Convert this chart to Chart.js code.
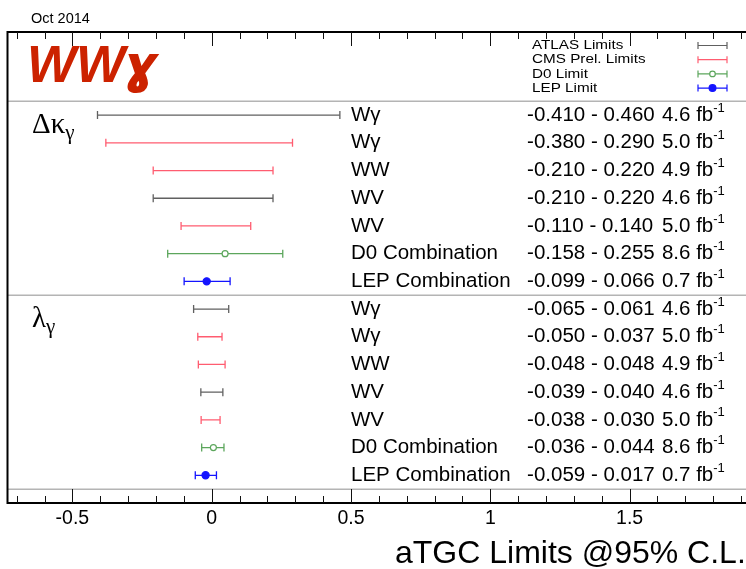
<!DOCTYPE html>
<html>
<head>
<meta charset="utf-8">
<script src="https://cdn.jsdelivr.net/npm/chart.js@4.4.0/dist/chart.umd.min.js"></script>
<style>
  html, body { margin: 0; padding: 0; background: #fff; overflow: hidden; width: 746px; height: 569px; }
  canvas { display: block; }
</style>
</head>
<body>
<canvas id="chartCanvas" width="770" height="569"></canvas>
<script>
// Данные графика
const processNames = ['Wγ', 'Wγ', 'WW', 'WV', 'WV', 'D0 Combination', 'LEP Combination'];
const rowExperiment = ['ATLAS', 'CMS', 'CMS', 'ATLAS', 'CMS', 'D0', 'LEP'];
const luminosity = ['4.6', '5.0', '4.9', '4.6', '5.0', '8.6', '0.7'];
const dkLow = [-0.410, -0.380, -0.210, -0.210, -0.110, -0.158, -0.099];
const dkHigh = [0.460, 0.290, 0.220, 0.220, 0.140, 0.255, 0.066];
const dkCentral = [null, null, null, null, null, 0.048, -0.018];
const lamLow = [-0.065, -0.050, -0.048, -0.039, -0.038, -0.036, -0.059];
const lamHigh = [0.061, 0.037, 0.048, 0.040, 0.030, 0.044, 0.017];
const lamCentral = [null, null, null, null, null, 0.006, -0.022];
const experiments = ['ATLAS', 'CMS', 'D0', 'LEP'];
const legendLabels = ['ATLAS Limits', 'CMS Prel. Limits', 'D0 Limit', 'LEP Limit'];
const experimentColors = ['#606060', '#ff5c70', '#5ca65c', '#1414ff'];
const xTickValues = [-0.5, 0, 0.5, 1, 1.5];
const xTickLabels = ['-0.5', '0', '0.5', '1', '1.5'];
const sectionLabels = [['Δκ', 'γ'], ['λ', 'γ']];

const sections = [
  { low: dkLow, high: dkHigh, central: dkCentral },
  { low: lamLow, high: lamHigh, central: lamCentral },
];
const rowsPerSection = processNames.length;

Chart.defaults.font.family = '"Liberation Sans", Arial, sans-serif';

// Линии пределов: по одному набору на эксперимент, разрывы через null
const limitDatasets = experiments.map((exp, e) => {
  const data = [];
  sections.forEach((sec, s) => {
    rowExperiment.forEach((re, r) => {
      if (re !== exp) return;
      const y = s * rowsPerSection + r;
      data.push({ x: sec.low[r], y: y });
      data.push({ x: sec.high[r], y: y });
      data.push({ x: sec.high[r], y: null });
    });
  });
  return {
    label: legendLabels[e],
    data: data,
    showLine: true,
    spanGaps: false,
    borderColor: experimentColors[e],
    borderWidth: 1.3,
    pointStyle: 'line',
    pointRotation: 90,
    pointRadius: 4,
    pointBorderWidth: 1.3,
    pointBorderColor: experimentColors[e],
    order: 1,
  };
});

// Центральные значения (D0 и LEP)
const markerDatasets = ['D0', 'LEP'].map((exp) => {
  const e = experiments.indexOf(exp);
  const data = [];
  sections.forEach((sec, s) => {
    rowExperiment.forEach((re, r) => {
      if (re === exp && sec.central[r] !== null) {
        data.push({ x: sec.central[r], y: s * rowsPerSection + r });
      }
    });
  });
  const filled = exp === 'LEP';
  return {
    label: exp + ' central',
    data: data,
    showLine: false,
    pointStyle: 'circle',
    pointRadius: filled ? 3.6 : 3,
    pointBorderWidth: 1.2,
    pointBorderColor: experimentColors[e],
    pointBackgroundColor: filled ? experimentColors[e] : '#ffffff',
    order: 0,
  };
});

function drawErrorSymbol(ctx, x1, x2, y, color, marker) {
  ctx.save();
  ctx.strokeStyle = color;
  ctx.lineWidth = 1.2;
  ctx.beginPath();
  ctx.moveTo(x1, y); ctx.lineTo(x2, y);
  ctx.moveTo(x1, y - 3.5); ctx.lineTo(x1, y + 3.5);
  ctx.moveTo(x2, y - 3.5); ctx.lineTo(x2, y + 3.5);
  ctx.stroke();
  if (marker) {
    const xc = (x1 + x2) / 2;
    ctx.beginPath();
    ctx.arc(xc, y, marker === 'filled' ? 3.4 : 2.8, 0, Math.PI * 2);
    ctx.fillStyle = marker === 'filled' ? color : '#fff';
    ctx.fill();
    ctx.stroke();
  }
  ctx.restore();
}

// Плагин: рамка, разделители, засечки, подписи
const framePlugin = {
  id: 'frame',
  beforeDatasetsDraw(chart) {
    const { ctx, chartArea: a, scales: { y } } = chart;
    ctx.save();
    ctx.strokeStyle = '#b4b4b4';
    ctx.lineWidth = 1.5;
    [-0.5, rowsPerSection - 0.5, 2 * rowsPerSection - 0.5].forEach((v) => {
      const py = y.getPixelForValue(v);
      ctx.beginPath();
      ctx.moveTo(a.left, py);
      ctx.lineTo(a.right, py);
      ctx.stroke();
    });
    ctx.restore();
  },
  afterDraw(chart) {
    const { ctx, chartArea: a, scales: { x, y } } = chart;
    ctx.save();

    // рамка
    ctx.strokeStyle = '#000';
    ctx.lineWidth = 2;
    ctx.strokeRect(a.left, a.top, a.right - a.left, a.bottom - a.top);

    // засечки
    ctx.lineWidth = 1;
    ctx.strokeStyle = '#111';
    for (let i = -7; i <= 19; i++) {
      const v = i / 10;
      if (v < x.min || v > x.max) continue;
      const px = Math.round(x.getPixelForValue(v)) + 0.5;
      const len = i % 5 === 0 ? 14 : 7;
      ctx.beginPath();
      ctx.moveTo(px, a.bottom); ctx.lineTo(px, a.bottom - len);
      ctx.moveTo(px, a.top); ctx.lineTo(px, a.top + len);
      ctx.stroke();
    }

    // подписи оси X
    ctx.fillStyle = '#000';
    ctx.font = '19.5px "Liberation Sans", Arial, sans-serif';
    ctx.textAlign = 'center';
    ctx.textBaseline = 'alphabetic';
    xTickValues.forEach((v, i) => {
      ctx.fillText(xTickLabels[i], x.getPixelForValue(v), 524);
    });

    // заголовок оси
    ctx.textAlign = 'left';
    ctx.font = '32px "Liberation Sans", Arial, sans-serif';
    ctx.fillText('aTGC Limits @95% C.L.', 395, 563);

    // дата
    ctx.font = '14.5px "Liberation Sans", Arial, sans-serif';
    ctx.fillText('Oct 2014', 31, 23);

    // логотип
    ctx.fillStyle = '#cc2200';
    ctx.font = 'italic bold 52px "Liberation Sans", Arial, sans-serif';
    ctx.fillText('WW', 27, 82);
    const ww = ctx.measureText('WW').width;
    ctx.font = 'italic bold 52px "DejaVu Sans", sans-serif';
    ctx.fillText('ɣ', 27 + ww - 2, 82);

    // подписи секций
    ctx.fillStyle = '#000';
    sectionLabels.forEach((lab, s) => {
      const baseY = y.getPixelForValue(s * rowsPerSection) + 18;
      ctx.font = '29px "Liberation Serif", "Times New Roman", serif';
      ctx.fillText(lab[0], 32, baseY);
      const w = ctx.measureText(lab[0]).width;
      ctx.font = '21px "Liberation Serif", "Times New Roman", serif';
      ctx.fillText(lab[1], 32 + w, baseY + 6);
    });

    // строки таблицы
    ctx.textBaseline = 'middle';
    sections.forEach((sec, s) => {
      processNames.forEach((name, r) => {
        const py = y.getPixelForValue(s * rowsPerSection + r);
        ctx.font = '20.5px "Liberation Sans", Arial, sans-serif';
        ctx.fillText(name, x.getPixelForValue(0.5), py);
        const range = sec.low[r].toFixed(3) + ' - ' + sec.high[r].toFixed(3);
        ctx.fillText(range, x.getPixelForValue(1.132), py);
        const lumiX = x.getPixelForValue(1.616);
        const lumi = luminosity[r] + ' fb';
        ctx.fillText(lumi, lumiX, py);
        const lw = ctx.measureText(lumi).width;
        ctx.font = '13px "Liberation Sans", Arial, sans-serif';
        ctx.fillText('-1', lumiX + lw, py - 7);
      });
    });

    // легенда
    ctx.font = '13.5px "Liberation Sans", Arial, sans-serif';
    legendLabels.forEach((lab, i) => {
      const ly = 45.5 + i * 14.2;
      ctx.save();
      ctx.translate(532, ly);
      ctx.scale(1.13, 1);
      ctx.fillText(lab, 0, 0);
      ctx.restore();
      const marker = experiments[i] === 'D0' ? 'open' : experiments[i] === 'LEP' ? 'filled' : null;
      drawErrorSymbol(ctx, 698, 727, ly, experimentColors[i], marker);
    });

    ctx.restore();
  },
};

const ctx = document.getElementById('chartCanvas').getContext('2d');
const chartInstance = new Chart(ctx, {
  type: 'scatter',
  data: { datasets: [...markerDatasets, ...limitDatasets] },
  options: {
    animation: false,
    responsive: false,
    maintainAspectRatio: false,
    layout: { padding: { left: 7.5, top: 32, right: 10, bottom: 66 } },
    plugins: {
      legend: { display: false },
      tooltip: { enabled: false },
    },
    scales: {
      x: { type: 'linear', min: -0.733, max: 1.968, display: false },
      y: { type: 'linear', min: -3, max: 14, reverse: true, display: false },
    },
  },
  plugins: [framePlugin],
});
</script>
</body>
</html>
